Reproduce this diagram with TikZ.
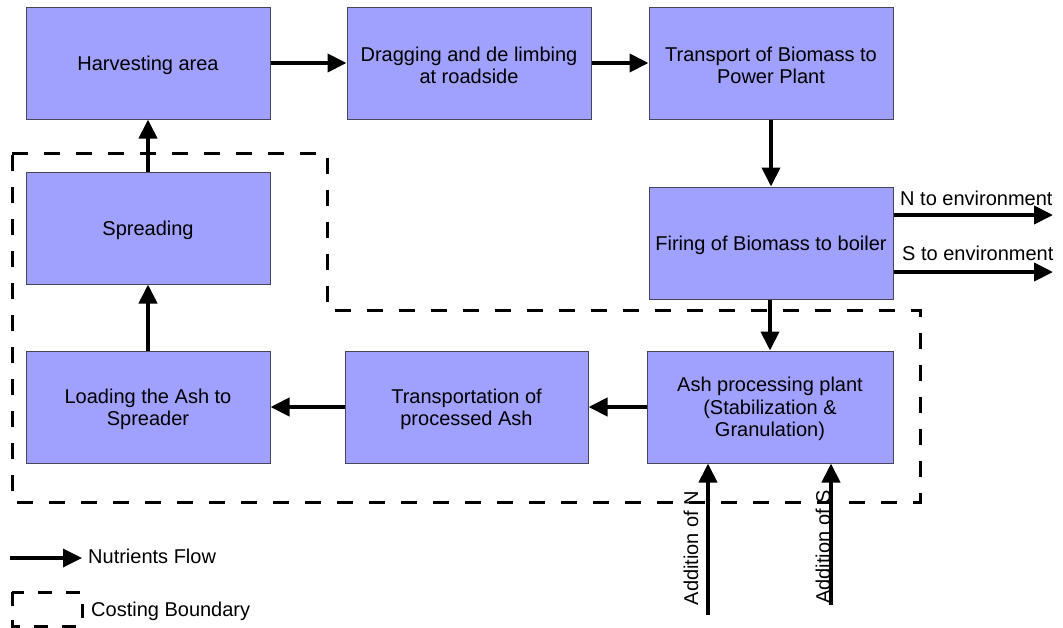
\documentclass[tikz,border=0pt]{standalone}
\usepackage{fontspec}
\setmainfont{Liberation Sans}
\usetikzlibrary{arrows.meta}
\definecolor{boxfill}{RGB}{160,160,255}
\definecolor{boxline}{RGB}{70,70,90}
% invisible strut on the first line: sets the text block a little lower
\newcommand{\tl}{\rule{0pt}{18.5pt}}
\tikzset{
  stage/.style={rectangle, draw=boxline, line width=1pt, fill=boxfill,
    minimum width=244pt, minimum height=112pt, inner sep=2pt,
    align=center, font=\fontsize{20}{22}\selectfont},
  flow/.style={line width=4pt, -{Triangle[length=19pt,width=18pt]}},
  boundary/.style={line width=3pt, dash pattern=on 16pt off 16pt},
  lbl/.style={font=\fontsize{20}{24}\selectfont, inner sep=0pt}
}
\begin{document}
\begin{tikzpicture}[x=1pt,y=-1pt]
\useasboundingbox (0,0) rectangle (1063,627);

% process stages
\node[stage] (harv)   at (148,63)   {\tl Harvesting area};
\node[stage] (drag)   at (469,63)   {\tl Dragging and de limbing\\at roadside};
\node[stage] (trans)  at (771,63)   {\tl Transport of Biomass to\\Power Plant};
\node[stage] (fire)   at (771,243)  {\tl Firing of Biomass to boiler};
\node[stage] (spread) at (148,228)  {\tl Spreading};
\node[stage] (load)   at (148,407)  {\tl Loading the Ash to\\Spreader};
\node[stage, minimum width=243pt] (transp) at (466.5,407) {\tl Transportation of\\processed Ash};
\node[stage, minimum width=246pt, font=\fontsize{20}{22.5}\selectfont] (ash) at (770,407)
  {\tl Ash processing plant\\(Stabilization \&\\Granulation)};

% costing boundary
\draw[boundary] (12,153) -- (327,153) -- (327,310) -- (920,310)
  -- (920,502) -- (12,502) -- cycle;

% nutrient flow between stages
\draw[flow] (harv.east) -- (drag.west);
\draw[flow] (drag.east) -- (trans.west);
\draw[flow] (trans.south) -- (fire.north);
\draw[flow] (fire.south -| ash.north) -- (ash.north);
\draw[flow] (ash.west) -- (transp.east);
\draw[flow] (transp.west) -- (load.east);
\draw[flow] (load.north) -- (spread.south);
\draw[flow] (spread.north) -- (harv.south);

% emissions
\coordinate (nout) at (1053,215);
\coordinate (sout) at (1053,272);
\draw[flow] (nout -| fire.east) -- (nout);
\draw[flow] (sout -| fire.east) -- (sout);
\node[lbl, anchor=west] (nlab) at (900,198) {N to environment};
\node[lbl, anchor=west] (slab) at (902,253) {S to environment};

% additions to the ash plant
\coordinate (addn) at (708,615);
\coordinate (adds) at (831,605);
\draw[flow] (addn) -- (addn |- ash.south);
\draw[flow] (adds) -- (adds |- ash.south);
\node[lbl, rotate=90] (nadd) at (691,548) {Addition of N};
\node[lbl, rotate=90] (sadd) at (823,547) {Addition of S};

% legend
\coordinate (legA) at (10,558);
\coordinate (legB) at (82,558);
\draw[flow, line width=3.5pt] (legA) -- (legB);
\node[lbl, anchor=west] (legflow) at (88,556) {Nutrients Flow};
\draw[boundary, dash pattern=on 14pt off 14pt] (12,592) rectangle (82,626);
\node[lbl, anchor=west] (legcost) at (91,611) {Costing Boundary};
\end{tikzpicture}
\end{document}
